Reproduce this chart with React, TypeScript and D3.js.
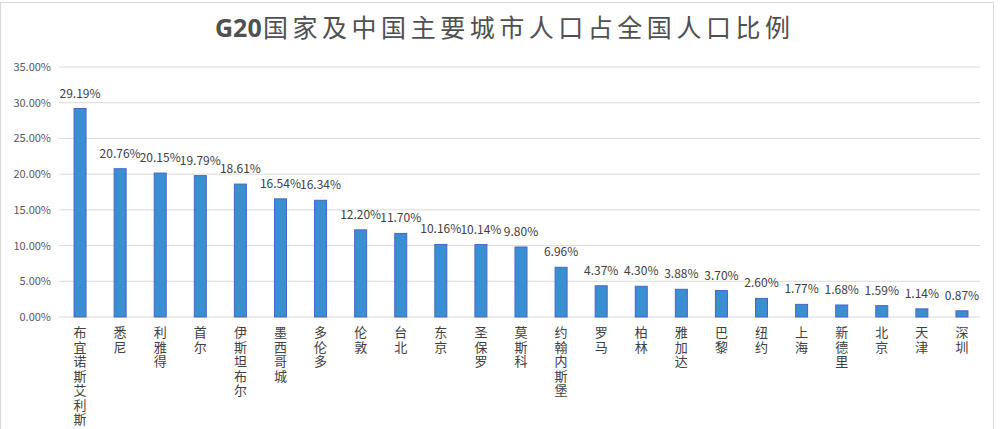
import React from "react";
import * as d3 from "d3";

const cities = ["布宜诺斯艾利斯", "悉尼", "利雅得", "首尔", "伊斯坦布尔", "墨西哥城", "多伦多", "伦敦", "台北", "东京", "圣保罗", "莫斯科", "约翰内斯堡", "罗马", "柏林", "雅加达", "巴黎", "纽约", "上海", "新德里", "北京", "天津", "深圳"];
const shares = [29.19, 20.76, 20.15, 19.79, 18.61, 16.54, 16.34, 12.2, 11.7, 10.16, 10.14, 9.8, 6.96, 4.37, 4.3, 3.88, 3.7, 2.6, 1.77, 1.68, 1.59, 1.14, 0.87];
const yTicks = [0, 5, 10, 15, 20, 25, 30, 35];
const titleLead = "G20";
const title = "国家及中国主要城市人口占全国人口比例";

const W = 1000, H = 429;
const font = "'Noto Sans CJK SC', 'DejaVu Sans', sans-serif";

export default function App() {
  const x = d3.scaleBand<string>().domain(cities).range([60, 982]).padding(0);
  const y = d3.scaleLinear().domain([0, 35]).range([317, 67]);
  const barW = 12;
  return (
    <div style={{ position: "fixed", left: 0, top: 0 }}>
      <svg width={W} height={H} style={{ display: "block", background: "#fff" }}>
        <rect x={0.5} y={2.5} width={993} height={H} fill="none" stroke="#d9d9d9" />
        <text x={215} y={37} fontFamily="'Open Sans', 'DejaVu Sans', sans-serif" fontWeight="bold" fontSize={25} fill="#505050">
          {titleLead}
        </text>
        <text x={263} y={37} fontFamily={font} fontSize={25} fill="#505050" textLength={527} lengthAdjust="spacing">
          {title}
        </text>
        {yTicks.map((t) => (
          <g key={t}>
            <line x1={59} x2={980} y1={y(t)} y2={y(t)} stroke="#d9d9d9" strokeWidth={1} />
            <text x={51} y={y(t) + 4} textAnchor="end" fontFamily={font} fontSize={11} fill="#595959">
              {d3.format(".2f")(t) + "%"}
            </text>
          </g>
        ))}
        {cities.map((c, i) => {
          const cx = (x(c) as number) + x.bandwidth() / 2;
          const v = shares[i];
          return (
            <g key={c}>
              <rect x={cx - barW / 2} y={y(v)} width={barW} height={y(0) - y(v)} fill="#3a8fd3" stroke="#4b63c4" strokeWidth={1} />
              <text x={cx} y={y(v) - 11} textAnchor="middle" fontFamily={font} fontSize={12} fill="#404040">
                {d3.format(".2f")(v) + "%"}
              </text>
              {Array.from(c).map((ch, k) => (
                <text key={k} x={cx} y={337 + k * 14.5} textAnchor="middle" fontFamily={font} fontSize={13} fill="#404040">
                  {ch}
                </text>
              ))}
            </g>
          );
        })}
      </svg>
    </div>
  );
}
